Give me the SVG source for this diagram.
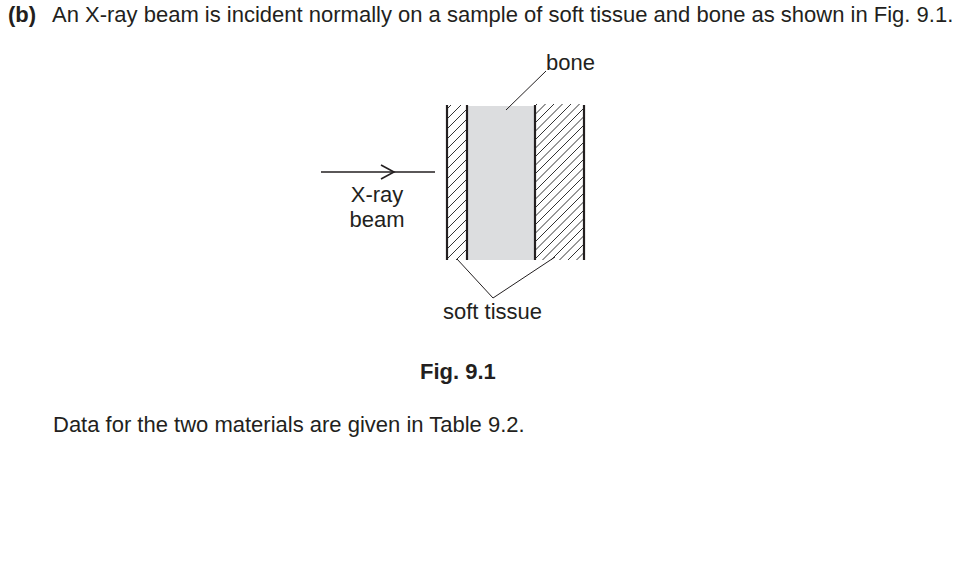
<svg xmlns="http://www.w3.org/2000/svg" width="978" height="568" viewBox="0 0 978 568">
<style>
text{font-family:"Liberation Sans",Arial,sans-serif;font-size:22px;fill:#231f20}
.b{font-weight:bold}
.wall{stroke:#231f20;stroke-width:2.2;fill:none}
.thin{stroke:#231f20;stroke-width:1;fill:none}
.h{stroke:#333;stroke-width:1;fill:none}
</style>
<defs>
<clipPath id="clipL"><rect x="447" y="105" width="20" height="155"/></clipPath>
<clipPath id="clipR"><rect x="535" y="104" width="49" height="156"/></clipPath>
</defs>
<rect width="978" height="568" fill="#fff"/>
<g id="heading">
<text x="8" y="22"><tspan class="b">(b)</tspan></text>
<text x="52" y="22">An X-ray beam is incident normally on a sample of soft tissue and bone as shown in Fig. 9.1.</text>
</g>
<g id="sample">
<rect x="467" y="106" width="68" height="154" fill="#dcdddf"/>
<path class="h" clip-path="url(#clipL)" d="M447,109l20,-20M447,119l20,-20M447,129l20,-20M447,139l20,-20M447,149l20,-20M447,159l20,-20M447,169l20,-20M447,179l20,-20M447,189l20,-20M447,199l20,-20M447,209l20,-20M447,219l20,-20M447,229l20,-20M447,239l20,-20M447,249l20,-20M447,259l20,-20M447,269l20,-20M447,279l20,-20"/>
<path class="h" clip-path="url(#clipR)" d="M535,106l49,-49M535,114.5l49,-49M535,123l49,-49M535,131.5l49,-49M535,140l49,-49M535,148.5l49,-49M535,157l49,-49M535,165.5l49,-49M535,174l49,-49M535,182.5l49,-49M535,191l49,-49M535,199.5l49,-49M535,208l49,-49M535,216.5l49,-49M535,225l49,-49M535,233.5l49,-49M535,242l49,-49M535,250.5l49,-49M535,259l49,-49M535,267.5l49,-49M535,276l49,-49M535,284.5l49,-49M535,293l49,-49M535,301.5l49,-49M535,310l49,-49"/>
<line class="wall" x1="447" y1="105" x2="447" y2="260"/>
<line class="wall" x1="467" y1="105" x2="467" y2="260"/>
<line class="wall" x1="535" y1="105" x2="535" y2="260"/>
<line class="wall" x1="584" y1="105" x2="584" y2="260"/>
</g>
<g id="beam">
<line class="wall" x1="321" y1="172" x2="435" y2="172" style="stroke-width:1.6"/>
<polyline class="thin" points="381,165 394,172 381,179" style="stroke-width:1.6"/>
<text x="377" y="202" text-anchor="middle">X-ray</text>
<text x="377" y="227" text-anchor="middle">beam</text>
</g>
<g id="connectors">
<line class="thin" x1="546" y1="71" x2="506" y2="110"/>
<polyline class="thin" points="457,259 493,298 555,257"/>
</g>
<g id="labels">
<text x="546" y="70">bone</text>
<text x="443" y="319">soft tissue</text>
<text class="b" x="420" y="379">Fig. 9.1</text>
<text x="53" y="432">Data for the two materials are given in Table 9.2.</text>
</g>
</svg>
